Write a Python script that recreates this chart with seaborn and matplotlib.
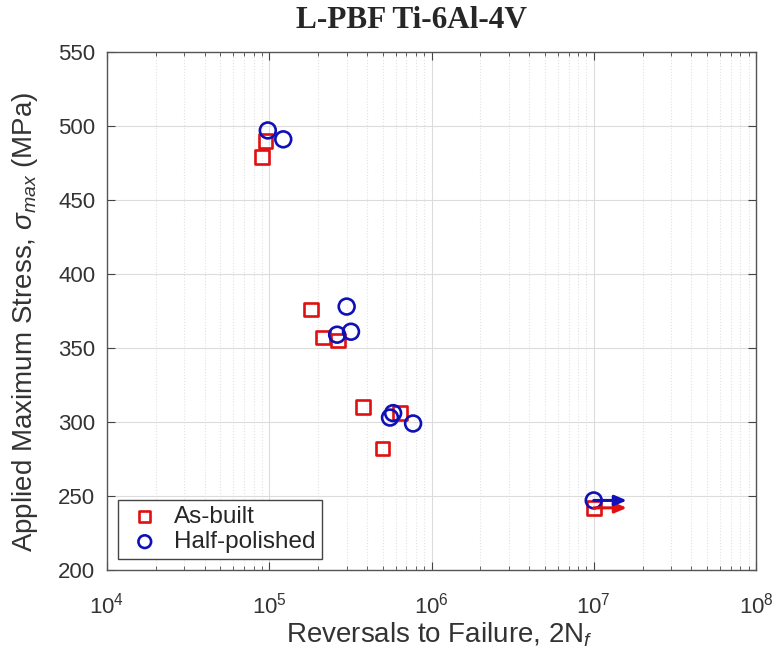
import numpy as np
import pandas as pd
import matplotlib
matplotlib.use("Agg")
import matplotlib.pyplot as plt
import seaborn as sns
from matplotlib.ticker import LogLocator, NullFormatter, MultipleLocator

# reversals to failure (2Nf) and max stress
as_built_cycles = [9.0e4, 9.5e4, 1.81e5, 2.14e5, 2.65e5, 3.79e5, 5.0e5, 6.4e5, 1.0e7]
as_built_stress = [479, 490, 376, 357, 355, 310, 282, 306, 242]
half_cycles = [9.8e4, 1.22e5, 2.62e5, 3.0e5, 3.19e5, 5.55e5, 5.8e5, 7.7e5, 1.0e7]
half_stress = [497, 491, 359, 378, 361, 303, 306, 299, 247]
runout_end = 1.6e7  # arrow tip for run-out specimens

sns.set_style("ticks")
plt.rcParams['font.family'] = ['Liberation Sans', 'DejaVu Sans']
plt.rcParams['mathtext.fontset'] = 'custom'
plt.rcParams['mathtext.rm'] = 'Liberation Sans'
plt.rcParams['mathtext.it'] = 'Liberation Sans:italic'

red = '#e01010'
blue = '#1010b8'

ab = pd.DataFrame({'cycles': as_built_cycles, 'stress': as_built_stress})
hp = pd.DataFrame({'cycles': half_cycles, 'stress': half_stress})

fig = plt.figure(figsize=(7.77, 6.55), dpi=100)
ax = fig.add_axes([107/777, 1 - 570/655, (756 - 107)/777, (570 - 52)/655])

sns.scatterplot(data=ab, x='cycles', y='stress', marker='s', s=95, facecolors='none',
                edgecolor=red, linewidth=1.9, label='As-built', ax=ax, zorder=3)
sns.scatterplot(data=hp, x='cycles', y='stress', marker='o', s=130, facecolors='none',
                edgecolor=blue, linewidth=1.9, label='Half-polished', ax=ax, zorder=4)

# run-out arrows
for y, c in [(as_built_stress[-1], red), (half_stress[-1], blue)]:
    ax.annotate('', xy=(runout_end, y), xytext=(as_built_cycles[-1], y),
                arrowprops=dict(arrowstyle='-|>,head_length=0.7,head_width=0.3',
                                color=c, lw=2.2, shrinkA=0, shrinkB=0), zorder=5)

ax.set_xscale('log')
ax.set_xlim(1e4, 1e8)
ax.set_ylim(200, 550)
ax.yaxis.set_major_locator(MultipleLocator(50))
ax.xaxis.set_major_locator(LogLocator(base=10))
ax.xaxis.set_minor_locator(LogLocator(base=10, subs=np.arange(2, 10)))
ax.xaxis.set_minor_formatter(NullFormatter())

ax.set_axisbelow(True)
ax.grid(True, which='major', color='#dcdcdc', lw=0.8)
ax.grid(True, which='minor', axis='x', color='#e2e2e2', ls=':', lw=0.8)
ax.tick_params(which='both', direction='in', top=True, right=True, labelsize=16,
               color='#444444', labelcolor='#333333')
ax.tick_params(which='major', length=6)
ax.tick_params(which='minor', length=3)
ax.tick_params(axis='x', pad=16)
ax.tick_params(axis='y', pad=8.5)
for sp in ax.spines.values():
    sp.set_color('#555555')
    sp.set_linewidth(1.0)

ax.set_xlabel('Reversals to Failure, 2N$_f$', fontsize=20, color='#333333')
ax.set_ylabel('Applied Maximum Stress, $\\sigma_{max}$ (MPa)', fontsize=20,
              color='#333333')
ax.xaxis.set_label_coords(0.513, -0.097)
ax.yaxis.set_label_coords(-0.103, 0.478)

leg = ax.legend(loc='lower left', bbox_to_anchor=(0.017, 0.021), fontsize=17.5,
                frameon=True, fancybox=False, edgecolor='#444444', framealpha=1,
                handletextpad=0.35, borderpad=0.25, labelspacing=0.12,
                handlelength=1.7, borderaxespad=0, markerscale=0.8)
leg.get_frame().set_linewidth(1.0)

fig.text(411/777, 1 - 21/655, 'L-PBF Ti-6Al-4V', ha='center', va='center',
         fontsize=22.5, fontweight='bold', family=['Liberation Serif', 'DejaVu Serif'])

fig.savefig('out.png', dpi=100)
